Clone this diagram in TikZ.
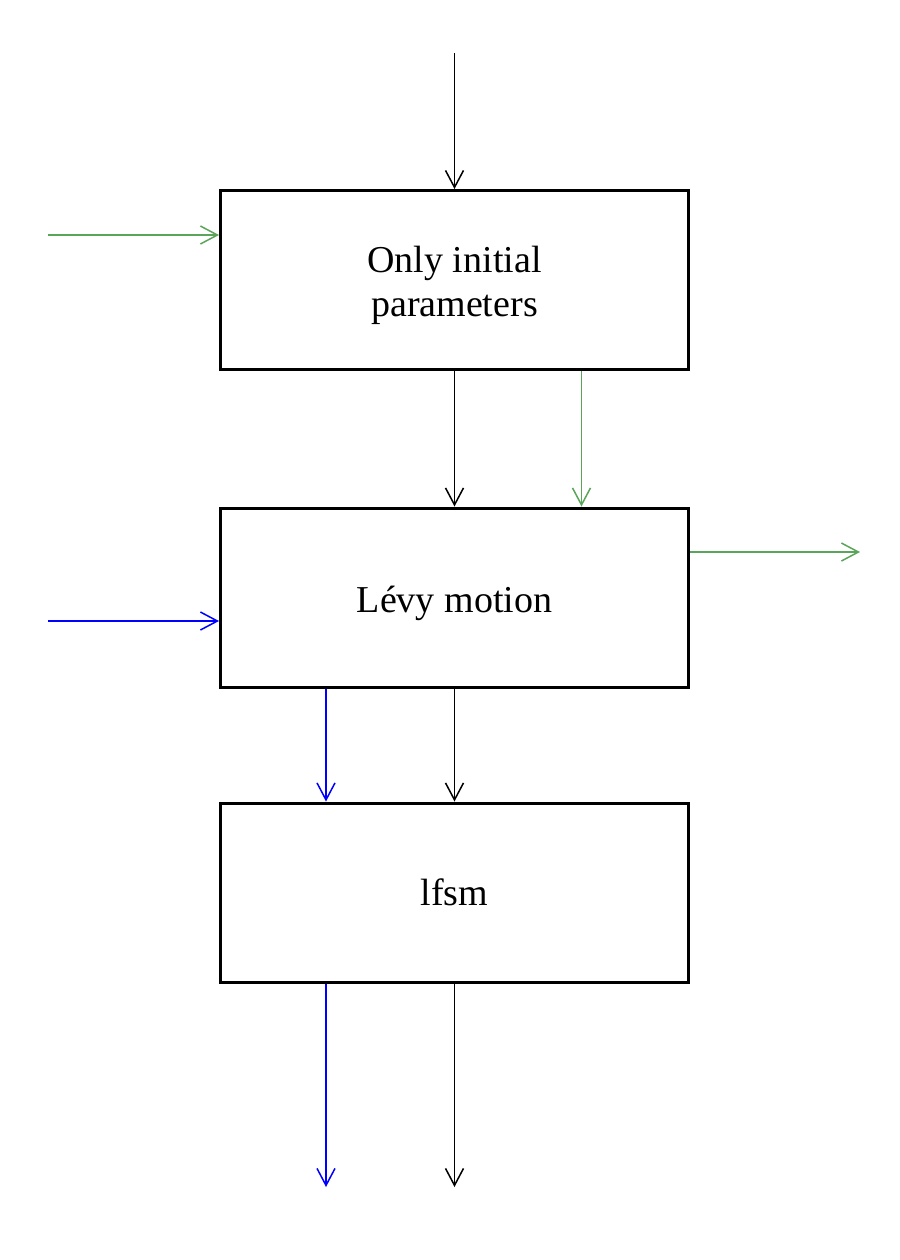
\documentclass[tikz,border=0pt]{standalone}
\usepackage{fontspec}
\setmainfont{Liberation Serif}
\usetikzlibrary{arrows.meta}
\definecolor{lgreen}{RGB}{90,165,90}
\begin{document}
\begin{tikzpicture}[x=0.5pt,y=-0.5pt,
  box/.style={draw=black,line width=1.5pt,minimum width=234pt,minimum height=89.5pt,inner sep=0pt,align=center,font=\fontsize{19}{22}\selectfont},
  conn/.style={line width=0.75pt,-{Straight Barb[length=8.5pt,width=9pt,line width=0.75pt]}},
]
\path[use as bounding box] (0,0) rectangle (900,1260);
\node[box] (b1) at (454.5,280) {\rule{0pt}{19pt}Only initial\\parameters};
\node[box] (b2) at (454.5,597.5) {\rule{0pt}{19pt}Lévy motion};
\node[box] (b3) at (454.5,892.5) {lfsm};
\coordinate (top) at (454.5,53);
\coordinate (gin) at (48,235);
\coordinate (bin) at (48,621);
\coordinate (gout) at (860,552);
\coordinate (bout) at (326,1187);
\coordinate (kout) at (454.5,1187);
\draw[conn] (top) -- (b1.north);
\draw[conn,lgreen] (gin) -- (gin -| b1.west);
\draw[conn] (b1.south) -- (b2.north);
\draw[conn,lgreen] ([xshift=63.5pt]b1.south) -- ([xshift=63.5pt]b2.north);
\draw[conn,lgreen] (gout -| b2.east) -- (gout);
\draw[conn,blue] (bin) -- (bin -| b2.west);
\draw[conn,blue] ([xshift=-64.25pt]b2.south) -- ([xshift=-64.25pt]b3.north);
\draw[conn] (b2.south) -- (b3.north);
\draw[conn,blue] (bout |- b3.south) -- (bout);
\draw[conn] (b3.south) -- (kout);
\end{tikzpicture}
\end{document}
